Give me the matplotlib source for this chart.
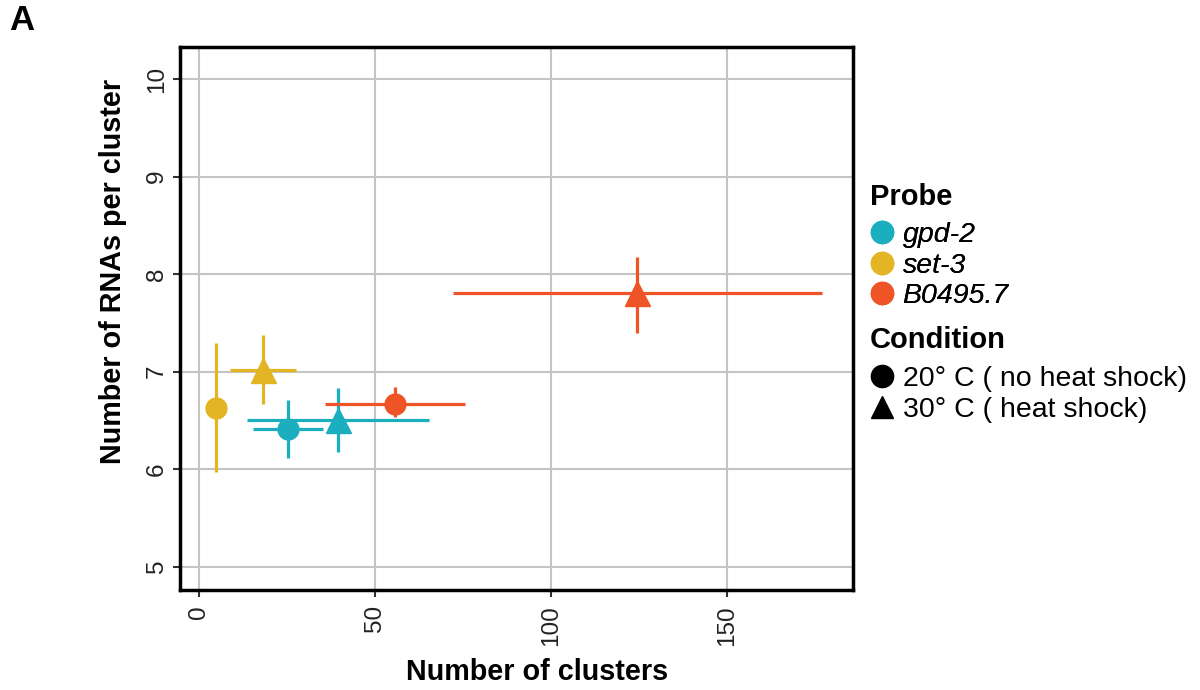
import matplotlib
matplotlib.use("Agg")
import matplotlib.pyplot as plt
from matplotlib.lines import Line2D

plt.rcParams['font.family'] = ['Liberation Sans', 'DejaVu Sans']

probes = ["gpd-2", "set-3", "B0495.7"]
colors = {"gpd-2": "#1AAEBE", "set-3": "#E3B423", "B0495.7": "#EE5426"}
conditions = ["20° C ( no heat shock)", "30° C ( heat shock)"]
markers = {"20° C ( no heat shock)": "o", "30° C ( heat shock)": "^"}
msizes = {"o": 15, "^": 18}

# data per (probe, condition)
pt_probe = ["set-3", "set-3", "gpd-2", "gpd-2", "B0495.7", "B0495.7"]
pt_cond = [conditions[0], conditions[1], conditions[0], conditions[1], conditions[0], conditions[1]]
x_mean = [4.9, 18.2, 25.2, 39.4, 55.8, 124.4]
x_lo = [4.9, 8.8, 15.2, 13.5, 35.9, 72.2]
x_hi = [4.9, 27.6, 35.1, 65.3, 75.5, 177.0]
y_mean = [6.63, 7.02, 6.41, 6.50, 6.67, 7.81]
y_lo = [5.97, 6.67, 6.11, 6.17, 6.53, 7.40]
y_hi = [7.29, 7.37, 6.71, 6.83, 6.84, 8.18]

fig = plt.figure(figsize=(12, 6.9), dpi=100)
ax = fig.add_axes([0.15, 0.145, 0.561, 0.787])

for p, c, xm, xl, xh, ym, yl, yh in zip(pt_probe, pt_cond, x_mean, x_lo, x_hi, y_mean, y_lo, y_hi):
    col = colors[p]
    ax.errorbar(xm, ym, xerr=[[xm - xl], [xh - xm]], yerr=[[ym - yl], [yh - ym]],
                fmt='none', ecolor=col, elinewidth=2.3, capsize=0, zorder=3)
    m = markers[c]
    ax.plot(xm, ym, marker=m, color=col, markersize=msizes[m], linestyle='none', zorder=4)

ax.set_xlim(-5.4, 185.8)
ax.set_ylim(4.76, 10.33)
ax.set_xticks([0, 50, 100, 150])
ax.set_yticks([5, 6, 7, 8, 9, 10])
ax.grid(True, color='#C4C4C4', linewidth=1.5)
ax.set_axisbelow(True)
for s in ax.spines.values():
    s.set_linewidth(2.5)
ax.tick_params(axis='both', labelsize=17.5, length=5, width=1.5, color='#333333', labelcolor='#222222')
ax.tick_params(axis='x', pad=6)
for lab in ax.get_xticklabels():
    lab.set_rotation(90)
for lab in ax.get_yticklabels():
    lab.set_rotation(90)
    lab.set_va('center')

ax.set_xlabel("Number of clusters", fontsize=20.7, fontweight='bold', labelpad=9)
ax.set_ylabel("Number of RNAs per cluster", fontsize=20.7, fontweight='bold', labelpad=14)
ax.xaxis.label.set_x(0.530)
ax.yaxis.label.set_y(0.586)

fig.text(0.008, 0.97, "A", fontsize=25, fontweight='bold', va='center', ha='left')

# legend titles
fig.text(870 / 1200, 1 - 205 / 690, "Probe", fontsize=21, fontweight='bold', va='baseline', ha='left')
fig.text(870 / 1200, 1 - 348 / 690, "Condition", fontsize=21, fontweight='bold', va='baseline', ha='left')

probe_handles = [Line2D([], [], marker='o', color=colors[p], linestyle='none', markersize=16) for p in probes]
leg1 = fig.legend(probe_handles, probes, loc='upper left', bbox_to_anchor=(0.7225, 1 - 222 / 690),
                  frameon=False, fontsize=20.5, borderpad=0,
                  handletextpad=0.2, labelspacing=0.16, borderaxespad=0, handlelength=1.05)
for t in leg1.get_texts():
    t.set_fontstyle('italic')
cond_handles = [Line2D([], [], marker=markers[c], color='black', linestyle='none', markersize=16) for c in conditions]
leg2 = fig.legend(cond_handles, conditions, loc='upper left', bbox_to_anchor=(0.7225, 1 - 366 / 690),
                  frameon=False, fontsize=20.5, borderpad=0,
                  handletextpad=0.2, labelspacing=0.16, borderaxespad=0, handlelength=1.05)
fig.add_artist(leg1)

fig.savefig("out.png", dpi=100)
